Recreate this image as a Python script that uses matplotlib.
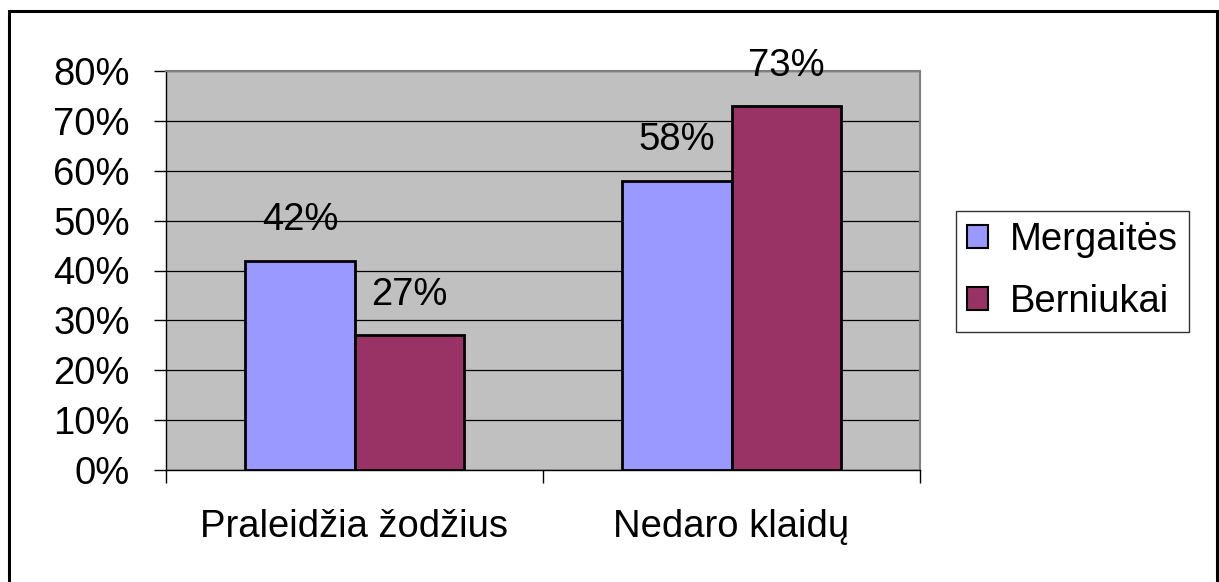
import matplotlib
matplotlib.use("Agg")
import matplotlib.pyplot as plt
import matplotlib.patches as mpatches
import numpy as np

categories = ["Praleidžia žodžius", "Nedaro klaidų"]
series_names = ["Mergaitės", "Berniukai"]
mergaites = [42, 58]
berniukai = [27, 73]
ytick_values = [0, 10, 20, 30, 40, 50, 60, 70, 80]
colors = ["#9999FF", "#993366"]

plt.rcParams['font.family'] = ['Liberation Sans', 'DejaVu Sans']
FS = 27.5

W, H = 1219, 582
fig = plt.figure(figsize=(W / 100, H / 100), dpi=100)

# outer border (bottom edge lies just outside the image, as in the reference)
fig.patches.append(mpatches.Rectangle((9 / W, 1 - 590 / H), (1217 - 9) / W, (590 - 11) / H,
                                      transform=fig.transFigure, fill=False,
                                      edgecolor="black", linewidth=2.2))

ax = fig.add_axes([166 / W, 1 - 470 / H, (920 - 166) / W, (470 - 71) / H])
ax.set_facecolor("#C0C0C0")

x = np.arange(len(categories))
bw = 0.29
vals = [mergaites, berniukai]
offsets = [-bw / 2, bw / 2]
for i, (name, v) in enumerate(zip(series_names, vals)):
    bars = ax.bar(x + offsets[i], v, width=bw, color=colors[i], edgecolor="black",
                  linewidth=2.0, label=name, zorder=3)
    for b, val in zip(bars, v):
        ax.annotate(f"{val}%", (b.get_x() + b.get_width() / 2, val),
                    xytext=(0, 29), textcoords="offset points",
                    ha="center", va="center", fontsize=FS, zorder=4)

ax.set_xlim(-0.5, 1.5)
ax.set_ylim(0, 80)
ax.set_yticks(ytick_values)
ax.set_yticklabels([f"{v}%" for v in ytick_values])
ax.yaxis.grid(True, color="black", linewidth=0.9, zorder=1)
ax.set_axisbelow(True)

ax.set_xticks(x)
ax.set_xticklabels(categories)
ax.set_xticks([-0.5, 0.5, 1.5], minor=True)
ax.tick_params(axis="x", which="major", length=0, pad=28, labelsize=FS)
ax.tick_params(axis="x", which="minor", length=9, width=1, color="black", direction="out")
ax.tick_params(axis="y", length=9, width=1, color="black", direction="out", pad=17, labelsize=FS)

for s in ["left", "bottom"]:
    ax.spines[s].set_color("black")
    ax.spines[s].set_linewidth(1.0)
for s in ["top", "right"]:
    ax.spines[s].set_color("#808080")
    ax.spines[s].set_linewidth(1.5)

leg = fig.legend(loc="upper left", bbox_to_anchor=(956 / W, 1 - 211 / H),
                 fontsize=FS, frameon=True, fancybox=False, edgecolor="black",
                 borderaxespad=0, handlelength=0.55, handleheight=0.55,
                 handletextpad=0.55, labelspacing=0.68, borderpad=0.3)
leg.get_frame().set_linewidth(1.0)
for h in leg.legend_handles:
    h.set_linewidth(1.5)

fig.savefig("out.png", dpi=100)
